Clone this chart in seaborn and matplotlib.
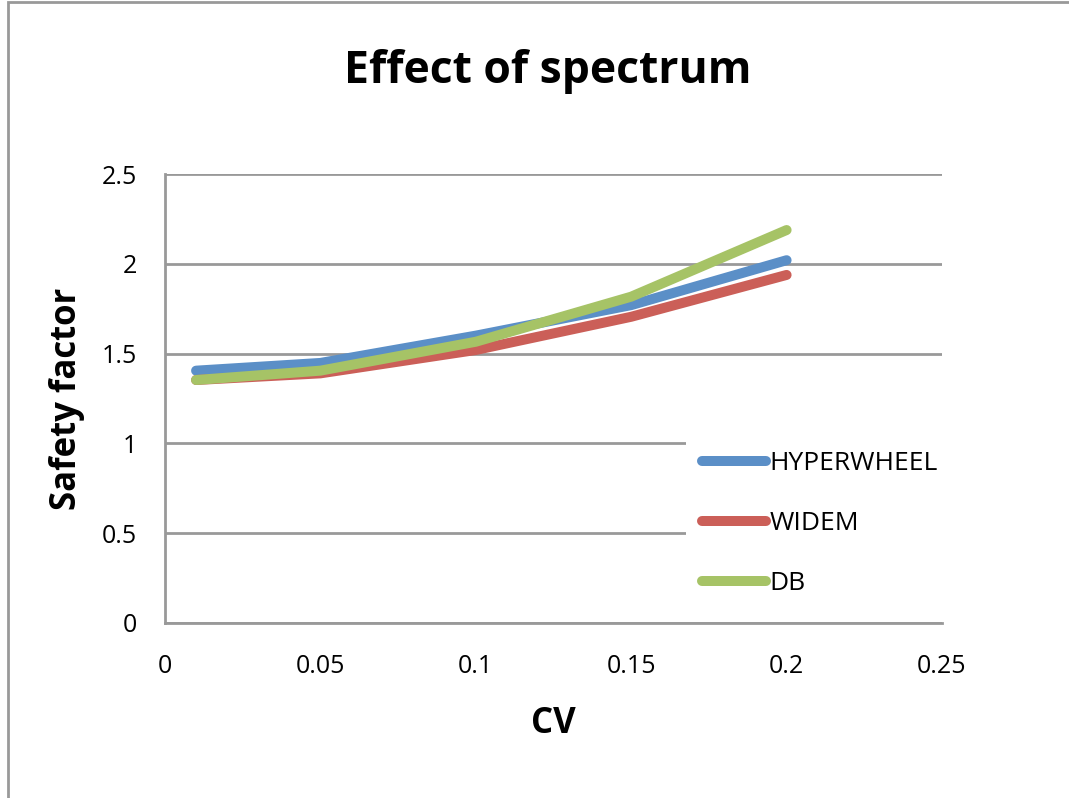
import matplotlib
matplotlib.use("Agg")
import matplotlib.pyplot as plt
import seaborn as sns
import pandas as pd
from matplotlib.patches import Rectangle

cv = [0.01, 0.05, 0.1, 0.15, 0.2]
hyperwheel = [1.405, 1.448, 1.60, 1.77, 2.02]
widem = [1.353, 1.39, 1.52, 1.705, 1.938]
db = [1.353, 1.405, 1.566, 1.817, 2.188]
series_names = ["HYPERWHEEL", "WIDEM", "DB"]
colors = ["#5B8FC7", "#CB5F58", "#A6C366"]
x_ticks = [0, 0.05, 0.1, 0.15, 0.2, 0.25]
y_ticks = [0, 0.5, 1, 1.5, 2, 2.5]

df = pd.concat([
    pd.DataFrame({"CV": cv, "Safety factor": vals, "Series": name})
    for name, vals in zip(series_names, [hyperwheel, widem, db])
])

sns.set_theme(style="white")
plt.rcParams["font.family"] = ["Open Sans", "DejaVu Sans"]
plt.rcParams["text.color"] = "black"
plt.rcParams["axes.labelcolor"] = "black"

W, H = 1069, 798
fig = plt.figure(figsize=(W/100, H/100), dpi=100)
ax = fig.add_axes([165/W, 1-623/H, (942-165)/W, (623-174)/H])

LW = 7.2
sns.lineplot(data=df, x="CV", y="Safety factor", hue="Series",
             palette=dict(zip(series_names, colors)), linewidth=LW,
             ax=ax, legend=True, zorder=3)
for ln in ax.get_lines():
    ln.set_solid_capstyle("round")
    ln.set_solid_joinstyle("round")

ax.set_xlim(0, 0.25)
ax.set_ylim(0, 2.5)
ax.set_xticks(x_ticks)
ax.set_xticklabels([f"{t:g}" for t in x_ticks])
ax.set_yticks(y_ticks)
ax.set_yticklabels([f"{t:g}" for t in y_ticks])
ax.tick_params(axis="both", length=0, labelsize=18, colors="black")
ax.tick_params(axis="x", pad=22)
ax.tick_params(axis="y", pad=20)
ax.grid(axis="y", color="#999999", linewidth=2)
ax.grid(axis="x", visible=False)
for s in ["top", "right"]:
    ax.spines[s].set_visible(False)
for s in ["left", "bottom"]:
    ax.spines[s].set_color("#999999")
    ax.spines[s].set_linewidth(2)

ax.set_xlabel("CV", fontsize=25, fontweight="bold", labelpad=20)
ax.set_ylabel("Safety factor", fontsize=25, fontweight="bold", labelpad=12)
fig.text(0.5 * (345 + 750) / W, 1 - 72/H, "Effect of spectrum", fontsize=32,
         fontweight="bold", ha="center", va="center")

handles, labels = ax.get_legend_handles_labels()
for h in handles:
    h.set_linewidth(LW)
    h.set_solid_capstyle("round")
ax_w, ax_h = 942 - 165, 623 - 174
bx0, bx1 = 686, 948
by_top, by_bot = 435, 612
leg = ax.legend(handles, labels, loc="upper left",
                bbox_to_anchor=((bx0-165)/ax_w, (623-by_bot)/ax_h,
                                (bx1-bx0)/ax_w, (by_bot-by_top)/ax_h),
                mode="expand", frameon=True, fontsize=19, handlelength=2.45,
                handletextpad=0.1, labelspacing=1.33, borderaxespad=0,
                borderpad=0.6)
leg.get_frame().set_facecolor("white")
leg.get_frame().set_edgecolor("none")
leg.get_frame().set_alpha(1)
leg.set_zorder(4)

fig.patches.append(Rectangle((8/W, -0.1), 1.2, 1.1 - 2/H,
                             transform=fig.transFigure, fill=False,
                             edgecolor="#999999", linewidth=2, figure=fig))

fig.savefig("out.png", dpi=100)
